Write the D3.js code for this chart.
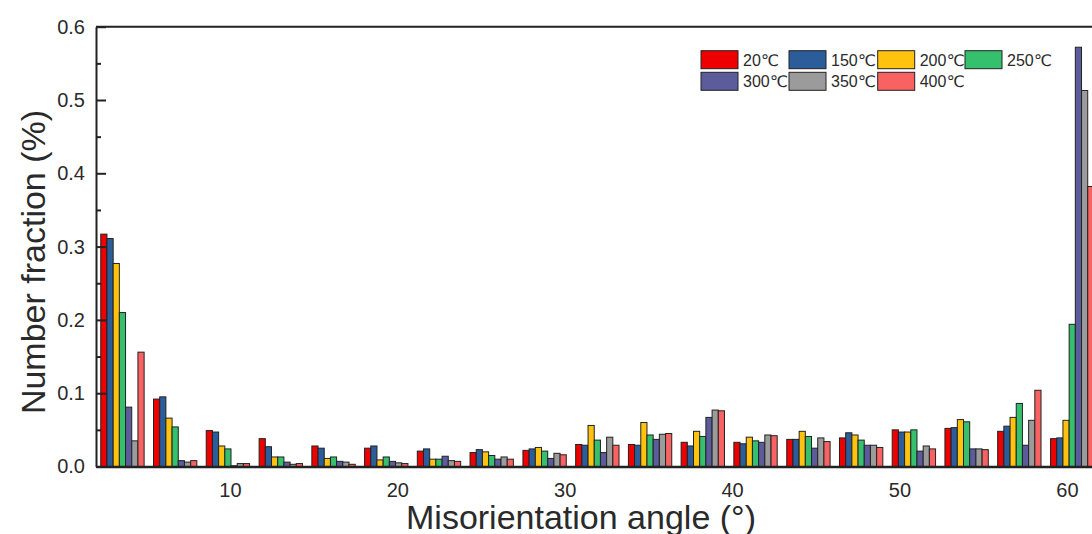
<!DOCTYPE html>
<html>
<head>
<meta charset="utf-8">
<script src="https://cdn.jsdelivr.net/npm/d3@7"></script>
<style>
  html, body { margin: 0; padding: 0; background: #fff; overflow: hidden; }
  svg { display: block; overflow: hidden; }
  text { font-family: "Liberation Sans", Arial, "DejaVu Sans", sans-serif; fill: #2a2a2a; }
</style>
</head>
<body>
<svg id="chart" width="1092" height="534"></svg>
<script>
// Misorientation angle bins (bin centres, degrees)
const angleBins = [3.58, 6.73, 9.88, 13.04, 16.19, 19.34, 22.49, 25.64, 28.80, 31.95,
                   35.10, 38.25, 41.40, 44.56, 47.71, 50.86, 54.01, 57.16, 60.32];

// Temperatures (legend labels)
const temps = ["20℃", "150℃", "200℃", "250℃", "300℃", "350℃", "400℃"];

// Number fraction per bin for each temperature
const frac20  = [0.317, 0.092, 0.049, 0.038, 0.028, 0.025, 0.021, 0.019, 0.022, 0.030, 0.030, 0.033, 0.033, 0.037, 0.039, 0.050, 0.052, 0.048, 0.038];
const frac150 = [0.311, 0.095, 0.047, 0.027, 0.025, 0.028, 0.024, 0.023, 0.024, 0.029, 0.029, 0.028, 0.031, 0.037, 0.046, 0.047, 0.053, 0.055, 0.039];
const frac200 = [0.277, 0.066, 0.028, 0.013, 0.011, 0.009, 0.010, 0.020, 0.026, 0.056, 0.060, 0.048, 0.040, 0.048, 0.043, 0.047, 0.064, 0.067, 0.063];
const frac250 = [0.210, 0.054, 0.024, 0.013, 0.013, 0.013, 0.010, 0.015, 0.021, 0.036, 0.043, 0.041, 0.035, 0.041, 0.036, 0.050, 0.061, 0.086, 0.194];
const frac300 = [0.081, 0.008, 0.001, 0.006, 0.007, 0.007, 0.014, 0.010, 0.011, 0.019, 0.037, 0.067, 0.033, 0.025, 0.029, 0.021, 0.024, 0.029, 0.572];
const frac350 = [0.035, 0.006, 0.004, 0.003, 0.006, 0.005, 0.008, 0.013, 0.018, 0.040, 0.044, 0.077, 0.043, 0.039, 0.029, 0.028, 0.024, 0.063, 0.513];
const frac400 = [0.156, 0.008, 0.004, 0.004, 0.003, 0.004, 0.007, 0.010, 0.016, 0.029, 0.045, 0.076, 0.042, 0.034, 0.026, 0.024, 0.023, 0.104, 0.382];

const colors = ["#ee0000", "#2c5d9b", "#ffc20e", "#34c06c", "#5c5c9c", "#9b9b9b", "#f86262"];

// Axis ticks
const xTicks = [10, 20, 30, 40, 50, 60];
const yTicks = [0.0, 0.1, 0.2, 0.3, 0.4, 0.5, 0.6];
const yMinorTicks = [0.05, 0.15, 0.25, 0.35, 0.45, 0.55];

const seriesValues = [frac20, frac150, frac200, frac250, frac300, frac350, frac400];
const table = angleBins.map((a, i) => ({
  angle: a,
  values: temps.map((t, k) => ({ temp: t, value: seriesValues[k][i], color: colors[k] }))
}));

const svg = d3.select("#chart");

const x = d3.scaleLinear().domain([2, 63]).range([96, 1117.1]);
const y = d3.scaleLinear().domain([0, 0.6]).range([466.5, 26.7]);

const groupDeg = 2.59;  // angular width occupied by the 7 bars of one bin
const inner = d3.scaleBand().domain(temps)
  .range([0, x(2 + groupDeg) - x(2)]).padding(0);

// Bars
const groups = svg.append("g").selectAll("g").data(table).join("g")
  .attr("transform", d => `translate(${x(d.angle - groupDeg / 2)},0)`);

groups.selectAll("rect").data(d => d.values).join("rect")
  .attr("x", d => inner(d.temp))
  .attr("y", d => y(d.value))
  .attr("width", inner.bandwidth())
  .attr("height", d => y(0) - y(d.value))
  .attr("fill", d => d.color)
  .attr("stroke", "#222")
  .attr("stroke-width", 1);

// Frame: top border
svg.append("line")
  .attr("x1", x(2)).attr("x2", x(63))
  .attr("y1", y(0.6)).attr("y2", y(0.6))
  .attr("stroke", "#222").attr("stroke-width", 2);

// Y axis with inward major and minor ticks
const yAxis = svg.append("g").attr("transform", `translate(${x(2)},0)`)
  .call(d3.axisLeft(y).tickValues(yTicks).tickFormat(d3.format(".1f"))
    .tickSizeInner(-10).tickSizeOuter(0).tickPadding(11));
yAxis.select(".domain").attr("stroke", "#222").attr("stroke-width", 2);
yAxis.selectAll(".tick line").attr("stroke", "#222").attr("stroke-width", 2);
yAxis.selectAll(".tick text").attr("font-size", 20)
  .style("font-family", "'Liberation Sans', Arial, sans-serif").attr("fill", "#2a2a2a");

const yMinor = svg.append("g").attr("transform", `translate(${x(2)},0)`)
  .call(d3.axisLeft(y).tickValues(yMinorTicks).tickFormat("").tickSizeInner(-5).tickSizeOuter(0));
yMinor.select(".domain").remove();
yMinor.selectAll(".tick line").attr("stroke", "#222").attr("stroke-width", 2);

// X axis
const xAxis = svg.append("g").attr("transform", `translate(0,${y(0)})`)
  .call(d3.axisBottom(x).tickValues(xTicks).tickFormat(d3.format("d"))
    .tickSize(0).tickPadding(16));
xAxis.select(".domain").attr("stroke", "#222").attr("stroke-width", 2.5);
xAxis.selectAll(".tick text").attr("font-size", 20)
  .style("font-family", "'Liberation Sans', Arial, sans-serif").attr("fill", "#2a2a2a");

// Axis titles
svg.append("text")
  .attr("transform", "translate(45,262) rotate(-90)")
  .attr("text-anchor", "middle")
  .attr("font-size", 34)
  .text("Number fraction (%)");

svg.append("text")
  .attr("x", 581).attr("y", 529)
  .attr("text-anchor", "middle")
  .attr("font-size", 34)
  .text("Misorientation angle (°)");

// Legend: 4 columns x 2 rows
const legendCols = [701, 789, 877.7, 965];
const legendRows = [50.7, 72.3];
const legend = svg.append("g").selectAll("g").data(temps).join("g")
  .attr("transform", (d, i) => `translate(${legendCols[i % 4]},${legendRows[Math.floor(i / 4)]})`);
legend.append("rect")
  .attr("width", 37).attr("height", 18)
  .attr("fill", (d, i) => colors[i])
  .attr("stroke", "#222").attr("stroke-width", 1);
legend.append("text")
  .attr("x", 42).attr("y", 15)
  .attr("font-size", 16)
  .attr("fill", "#333")
  .text(d => d);
</script>
</body>
</html>
